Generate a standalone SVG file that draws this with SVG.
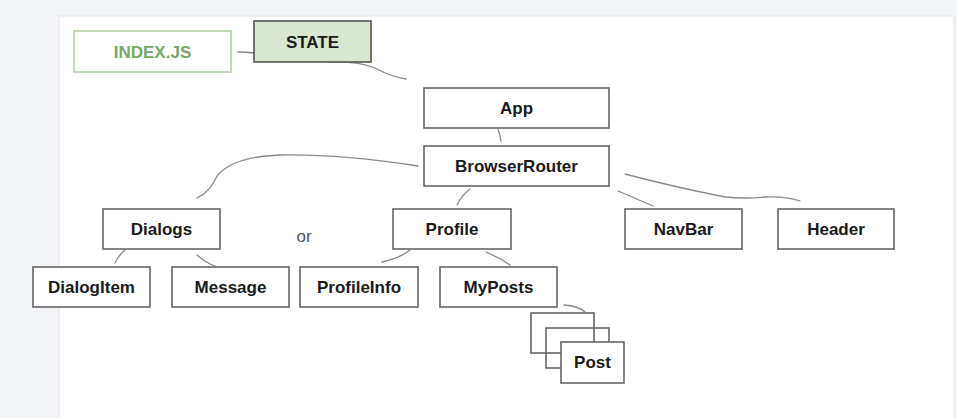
<svg xmlns="http://www.w3.org/2000/svg" width="957" height="418" viewBox="0 0 957 418">
  <style>
    .box { fill: #ffffff; stroke: #666666; stroke-width: 1.6; }
    .lbl { font-family: "Liberation Sans", Arial, sans-serif; font-size: 17px; font-weight: bold; fill: #1a1a1a; text-anchor: middle; dominant-baseline: central; }
    .link { fill: none; stroke: #8a8a8a; stroke-width: 1.3; stroke-linecap: round; }
  </style>

  <!-- canvas -->
  <rect x="0" y="0" width="957" height="418" fill="#f3f4f8"/>
  <rect x="59" y="16" width="895" height="410" fill="#ffffff" stroke="#e2e3e7" stroke-width="1"/>

  <!-- connectors -->
  <g id="connectors">
    <path class="link" d="M238 52 Q246 52 254 53"/>
    <path class="link" d="M330 62 Q358 61 375 68 Q392 77 406 79"/>
    <path class="link" d="M498 129 Q500 135 501 141"/>
    <path class="link" d="M418 166 Q340 154 280 155 Q232 157 217 176 Q210 192 197 198"/>
    <path class="link" d="M470 189 Q461 196 457 205"/>
    <path class="link" d="M618 191 Q637 199 653 206"/>
    <path class="link" d="M625 174 Q670 186 725 197 Q745 199 765 197 Q785 196 800 201"/>
    <path class="link" d="M410 250 Q400 258 382 262"/>
    <path class="link" d="M486 252 Q500 258 510 265"/>
    <path class="link" d="M125 250 Q118 256 115 263"/>
    <path class="link" d="M197 255 Q206 263 215 266"/>
    <path class="link" d="M564 305 Q578 306 585 312"/>
  </g>

  <g id="index-js">
    <rect x="74" y="31" width="157" height="41" fill="#ffffff" stroke="#b3d0a6" stroke-width="1.6"/>
    <text class="lbl" x="152.5" y="52" style="fill:#76a866">INDEX.JS</text>
  </g>
  <g id="state">
    <rect x="254" y="21" width="117" height="41" fill="#d9e6d2" stroke="#555555" stroke-width="1.6"/>
    <text class="lbl" x="312.5" y="42">STATE</text>
  </g>
  <g id="app">
    <rect class="box" x="424" y="88" width="185" height="40"/>
    <text class="lbl" x="516.5" y="108">App</text>
  </g>
  <g id="browser-router">
    <rect class="box" x="424" y="146" width="185" height="40"/>
    <text class="lbl" x="516.5" y="166">BrowserRouter</text>
  </g>
  <g id="dialogs">
    <rect class="box" x="103" y="209" width="117" height="40"/>
    <text class="lbl" x="161.5" y="229">Dialogs</text>
  </g>
  <g id="or-label">
    <text x="304" y="236" font-family="'Liberation Sans', Arial, sans-serif" font-size="17" fill="#555555" text-anchor="middle" dominant-baseline="central">or</text>
  </g>
  <g id="profile">
    <rect class="box" x="393" y="209" width="118" height="40"/>
    <text class="lbl" x="452" y="229">Profile</text>
  </g>
  <g id="navbar">
    <rect class="box" x="625" y="209" width="117" height="40"/>
    <text class="lbl" x="683.5" y="229">NavBar</text>
  </g>
  <g id="header">
    <rect class="box" x="778" y="209" width="116" height="40"/>
    <text class="lbl" x="836" y="229">Header</text>
  </g>
  <g id="dialog-item">
    <rect class="box" x="33" y="267" width="117" height="40"/>
    <text class="lbl" x="91.5" y="287">DialogItem</text>
  </g>
  <g id="message">
    <rect class="box" x="172" y="267" width="117" height="40"/>
    <text class="lbl" x="230.5" y="287">Message</text>
  </g>
  <g id="profile-info">
    <rect class="box" x="300" y="267" width="118" height="40"/>
    <text class="lbl" x="359" y="287">ProfileInfo</text>
  </g>
  <g id="my-posts">
    <rect class="box" x="440" y="267" width="117" height="40"/>
    <text class="lbl" x="498.5" y="287">MyPosts</text>
  </g>
  <g id="post">
    <rect x="531" y="313" width="63" height="40" fill="none" stroke="#666666" stroke-width="1.6"/>
    <rect x="546" y="328" width="63" height="40" fill="none" stroke="#666666" stroke-width="1.6"/>
    <rect class="box" x="561" y="342" width="63" height="41"/>
    <text class="lbl" x="592.5" y="362.5">Post</text>
  </g>
</svg>
